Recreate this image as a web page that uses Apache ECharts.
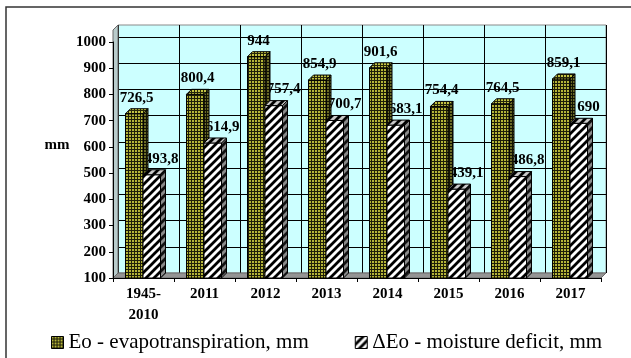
<!DOCTYPE html>
<html>
<head>
<meta charset="utf-8">
<script src="https://cdn.jsdelivr.net/npm/echarts@6/dist/echarts.min.js"></script>
<style>
  html, body { margin: 0; padding: 0; background: #fff; }
  #chart { width: 631px; height: 358px; }
</style>
</head>
<body>
<div id="chart"></div>
<script>
// Evaporation data, mm
const categories = ['1945-\n2010', '2011', '2012', '2013', '2014', '2015', '2016', '2017'];
const evapotranspiration = [726.5, 800.4, 944, 854.9, 901.6, 754.4, 764.5, 859.1];
const moistureDeficit = [493.8, 614.9, 757.4, 700.7, 683.1, 439.1, 486.8, 690];
const seriesNames = ['Eo - evapotranspiration, mm', '\u0394Eo - moisture deficit, mm'];
const axisMin = 100, axisMax = 1000, axisStep = 100;

const FONT = 'Liberation Serif';

// ---- fill patterns ----
function makeTile(size, draw) {
  const c = document.createElement('canvas');
  c.width = size; c.height = size;
  draw(c.getContext('2d'), size);
  return { image: c, repeat: 'repeat' };
}
function dots(bg, dot) {
  return makeTile(3, (g) => {
    g.fillStyle = bg; g.fillRect(0, 0, 3, 3);
    g.fillStyle = dot; g.fillRect(0, 0, 2, 2);
  });
}
function stripes(bg, ink) {
  return makeTile(8, (g, s) => {
    g.fillStyle = bg; g.fillRect(0, 0, s, s);
    g.strokeStyle = ink; g.lineWidth = 2.8;
    g.beginPath();
    g.moveTo(-2, 2); g.lineTo(2, -2);
    g.moveTo(0, s); g.lineTo(s, 0);
    g.moveTo(s - 2, s + 2); g.lineTo(s + 2, s - 2);
    g.stroke();
  });
}
const eoFaces = {
  front: dots('#1e1e08', '#b4b438'),
  top: dots('#26260a', '#c4c444'),
  side: dots('#141404', '#6a6a26')
};
const deFaces = {
  front: stripes('#ffffff', '#000000'),
  top: stripes('#c8c8c8', '#000000'),
  side: stripes('#8a8a8a', '#111111')
};

// ---- 3D box bars ----
const BAR_W = 17.5, DEPTH = 5;
function box(x0, yTop, yBase, faces) {
  const w = BAR_W, d = DEPTH;
  const line = { stroke: '#000', lineWidth: 1 };
  return {
    type: 'group',
    children: [
      { type: 'polygon', shape: { points: [[x0 + w, yTop], [x0 + w + d, yTop - d], [x0 + w + d, yBase - d], [x0 + w, yBase]] },
        style: Object.assign({ fill: faces.side }, line) },
      { type: 'rect', shape: { x: x0, y: yTop, width: w, height: yBase - yTop },
        style: Object.assign({ fill: faces.front }, line) },
      { type: 'polygon', shape: { points: [[x0, yTop], [x0 + w, yTop], [x0 + w + d, yTop - d], [x0 + d, yTop - d]] },
        style: Object.assign({ fill: faces.top }, line) }
    ]
  };
}
function barRenderer(shift, faces) {
  return function (params, api) {
    const i = api.value(0);
    const top = api.coord([i, api.value(1)]);
    const base = api.coord([i, axisMin]);
    return box(top[0] + shift, top[1], base[1], faces);
  };
}
function labelRenderer(shift) {
  return function (params, api) {
    const v = api.value(1);
    const top = api.coord([api.value(0), v]);
    return {
      type: 'text',
      x: top[0] + shift,
      y: top[1] - 16,
      style: {
        text: String(v).replace('.', ','),
        font: 'bold 15px ' + FONT,
        fill: '#000',
        align: 'center',
        verticalAlign: 'middle'
      }
    };
  };
}
const toPoints = (arr) => arr.map((v, i) => [i, v]);

const chart = echarts.init(document.getElementById('chart'), null, { renderer: 'canvas' });

chart.setOption({
  backgroundColor: '#ffffff',
  animation: false,
  grid: [
    // front plane: axes, ticks and bars
    { left: 113, right: 30, top: 42, bottom: 80 },
    // back wall, shifted for depth
    { left: 118, right: 25, top: 25, bottom: 85, show: true,
      backgroundColor: '#ccffff', borderColor: '#8a8a8a', borderWidth: 1, z: 0 }
  ],
  xAxis: [
    { type: 'category', gridIndex: 0, data: categories, z: 6,
      axisLine: { lineStyle: { color: '#000', width: 1 } },
      axisTick: { show: true, length: 4, lineStyle: { color: '#000' } },
      axisLabel: { color: '#000', fontFamily: FONT, fontWeight: 'bold', fontSize: 15,
        lineHeight: 21, margin: 6, interval: 0 },
      splitLine: { show: false } },
    { type: 'category', gridIndex: 1, data: categories,
      axisLine: { show: false }, axisTick: { show: false }, axisLabel: { show: false },
      splitLine: { show: true, lineStyle: { color: '#000', width: 1 } } }
  ],
  yAxis: [
    { type: 'value', gridIndex: 0, min: axisMin, max: axisMax, interval: axisStep, z: 6,
      axisLine: { show: true, lineStyle: { color: '#000', width: 1 } },
      axisTick: { show: true, length: 4, lineStyle: { color: '#000' } },
      axisLabel: { color: '#000', fontFamily: FONT, fontWeight: 'bold', fontSize: 15, margin: 7,
        formatter: (v) => String(v) },
      splitLine: { show: false } },
    { type: 'value', gridIndex: 1, min: axisMin, max: 1046, interval: axisStep,
      axisLine: { show: false }, axisTick: { show: false }, axisLabel: { show: false },
      splitLine: { show: true, showMaxLine: false, lineStyle: { color: '#000', width: 1 } } }
  ],
  legend: {
    left: 46, top: 327,
    itemWidth: 12, itemHeight: 12, itemGap: 46,
    icon: 'rect',
    textStyle: { color: '#000', fontFamily: FONT, fontSize: 21 },
    data: [
      { name: seriesNames[0], itemStyle: { color: eoFaces.front, borderColor: '#000', borderWidth: 1 } },
      { name: seriesNames[1], itemStyle: { color: deFaces.front, borderColor: '#000', borderWidth: 1 } }
    ]
  },
  graphic: [
    // outer chart frame
    { type: 'rect', z: 0, silent: true, shape: { x: 6, y: 7, width: 700, height: 400 },
      style: { fill: 'none', stroke: '#333', lineWidth: 1.5 } },
    // left side wall
    { type: 'polygon', z: 1, silent: true,
      shape: { points: [[113, 278], [113, 30], [118, 25], [118, 273]] },
      style: { fill: '#b9cccc', stroke: '#6a6a6a', lineWidth: 1 } },
    // floor
    { type: 'polygon', z: 1, silent: true,
      shape: { points: [[113, 278], [601, 278], [606, 273], [118, 273]] },
      style: { fill: '#949494', stroke: '#6a6a6a', lineWidth: 1 } },
    // axis title
    { type: 'text', z: 6, silent: true, x: 57, y: 145,
      style: { text: 'mm', font: 'bold 15px ' + FONT, fill: '#000', align: 'center', verticalAlign: 'middle' } }
  ],
  series: [
    { type: 'custom', name: seriesNames[1] + ' labels', z: 2, xAxisIndex: 0, yAxisIndex: 0,
      data: toPoints(moistureDeficit), renderItem: labelRenderer(18), silent: true },
    { type: 'custom', name: seriesNames[0], z: 3, xAxisIndex: 0, yAxisIndex: 0,
      itemStyle: { color: eoFaces.front },
      data: toPoints(evapotranspiration), renderItem: barRenderer(-18, eoFaces) },
    { type: 'custom', name: seriesNames[1], z: 4, xAxisIndex: 0, yAxisIndex: 0,
      itemStyle: { color: deFaces.front },
      data: toPoints(moistureDeficit), renderItem: barRenderer(-0.5, deFaces) },
    { type: 'custom', name: seriesNames[0] + ' labels', z: 5, xAxisIndex: 0, yAxisIndex: 0,
      data: toPoints(evapotranspiration), renderItem: labelRenderer(-7), silent: true }
  ]
});
</script>
</body>
</html>
